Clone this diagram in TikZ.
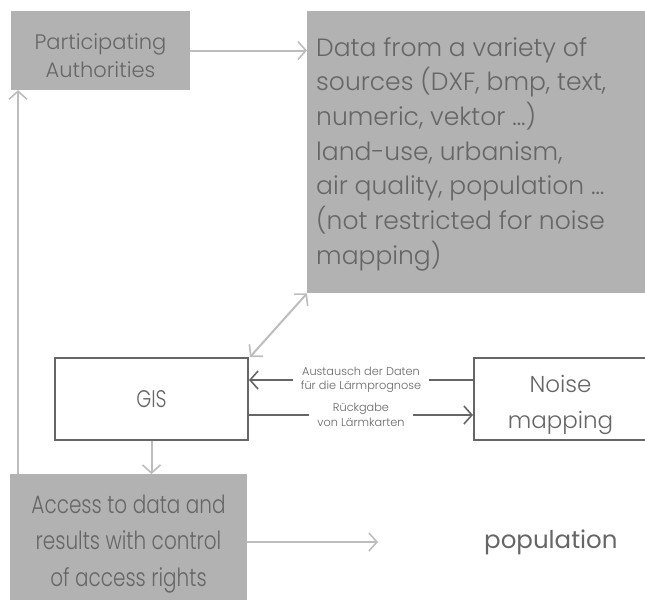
\documentclass[tikz,border=0pt]{standalone}
\usepackage{fontspec}
\setmainfont{Poppins}[UprightFont=* Light]
\newfontfamily\popregular{Poppins}
\newfontfamily\popnarrow{Poppins}[UprightFont=* Light,FakeStretch=0.8]
\usetikzlibrary{arrows.meta}
\definecolor{boxfill}{HTML}{B2B2B2}
\definecolor{boxtext}{HTML}{666666}
\definecolor{lightline}{HTML}{BDBDBD}
\definecolor{darkline}{HTML}{666666}
\begin{document}
\begin{tikzpicture}[x=1pt,y=-1pt,
  graybox/.style={fill=boxfill,draw=none,inner sep=0pt,text=boxtext},
  whitebox/.style={fill=white,draw=darkline,line width=2pt,inner sep=0pt,text=darkline},
  tip/.style={-{Straight Barb[length=8pt,width=18pt,line width=1.6pt]}},
  lightarrow/.style={draw=lightline,line width=2pt,tip},
  darkarrow/.style={draw=darkline,line width=2pt,tip},
  lbl/.style={font=\fontsize{11.3}{14.5}\selectfont,text=darkline,fill=white,align=center,inner xsep=8pt,inner ysep=1pt}]
\useasboundingbox (0,0) rectangle (645,600);
% boxes
\node[graybox,minimum width=179pt,minimum height=79pt] (pa) at (100.5,50.5) {};
\node[text=boxtext,align=center,inner sep=0pt,font=\fontsize{21}{28}\selectfont] (patext) at (100.5,55.5) {Participating\\Authorities};
\node[graybox,minimum width=338pt,minimum height=282pt,anchor=north west] (data) at (307,11) {};
\node[anchor=north west,text=boxtext,align=left,inner sep=0pt,
  font=\fontsize{25}{34.7}\selectfont] (datatext) at (316,37)
  {Data from a variety of\\sources (DXF, bmp, text,\\numeric, vektor \dots)\\land-use, urbanism,\\air quality, population \dots\\(not restricted for noise\\mapping)};
\node[whitebox,minimum width=193pt,minimum height=82pt,font=\popnarrow\fontsize{24}{28}\selectfont] (gis) at (151.5,399) {GIS};
\node[whitebox,minimum width=175pt,minimum height=82pt,anchor=west] (noise) at (473,399) {};
\node[text=darkline,align=center,inner sep=0pt,font=\fontsize{23}{36}\selectfont] (noisetext) at (560.5,405) {Noise\\mapping};
\node[graybox,minimum width=237pt,minimum height=126pt,anchor=north west] (acc) at (10,474) {};
\node[text=boxtext,align=center,inner sep=0pt,font=\popnarrow\fontsize{25}{36.5}\selectfont] (acctext) at (128.5,544)
  {Access to data and\\results with control\\of access rights};
\node[text=darkline,inner sep=0pt,font=\popregular\fontsize{24.5}{28}\selectfont,anchor=west] (pop) at (484,542) {population};
% connectors
\coordinate (popend) at (378,542);
\draw[lightarrow] (acc.east |- popend) -- (popend);
\draw[lightarrow] (pa.east) -- (data.west |- pa.east);
\draw[lightarrow] (gis.south) -- (acc.north -| gis.south);
\draw[lightarrow] (acc.north -| 18,0) -- (pa.south -| 18,0);
\draw[draw=lightline,line width=2pt,{Straight Barb[length=8pt,width=18pt,line width=1.6pt]}-{Straight Barb[length=8pt,width=18pt,line width=1.6pt]}]
  ([xshift=1pt]gis.north east) -- (data.south west);
\draw[darkarrow] (noise.west |- 0,380) -- node[lbl] {Austausch der Daten\\für die Lärmprognose} (gis.east |- 0,380);
\draw[darkarrow] (gis.east |- 0,415) -- node[lbl] {Rückgabe\\von Lärmkarten} (noise.west |- 0,415);
\end{tikzpicture}
\end{document}
